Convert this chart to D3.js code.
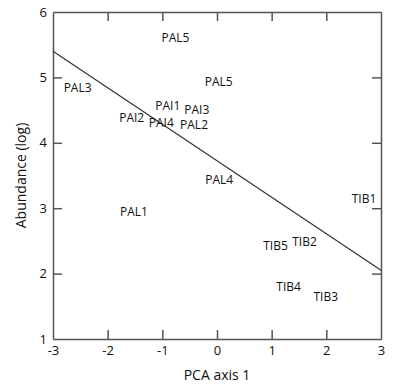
<!DOCTYPE html>
<html lang="en">
<head>
    <meta charset="utf-8">
    <script src='https://d3js.org/d3.v7.min.js'></script>
    <style>
        body { margin: 0; background: #fff; }
        svg text { font-family: "Open Sans", sans-serif; fill: #111; }
        .axis path { stroke: #555; stroke-width: 1.5; }
        .axis line { stroke: #555; stroke-width: 1.5; }
        .axis text { font-size: 13px; }
    </style>
</head>
<body>
    <script>
        // site labels and positions (PCA axis 1, log abundance)
        let labels = ['PAL5', 'PAL3', 'PAI1', 'PAI3', 'PAL5', 'PAI2', 'PAI4', 'PAL2', 'PAL4', 'TIB1', 'PAL1', 'TIB5', 'TIB2', 'TIB4', 'TIB3'];
        let pcaX = [-0.76, -2.55, -0.90, -0.37, 0.03, -1.56, -1.02, -0.42, 0.04, 2.69, -1.52, 1.07, 1.60, 1.31, 1.99];
        let abund = [5.60, 4.84, 4.56, 4.51, 4.94, 4.38, 4.30, 4.28, 3.44, 3.15, 2.94, 2.43, 2.49, 1.80, 1.65];
        // regression line end points
        let lineX = [-3, 3];
        let lineY = [5.40, 2.05];
        let xTicks = [-3, -2, -1, 0, 1, 2, 3];
        let yTicks = [1, 2, 3, 4, 5, 6];

        var width = 394, height = 390;
        var mLeft = 53, mRight = 381, mTop = 12, mBottom = 339;

        var svg = d3.select("body").append("svg")
            .attr("width", width)
            .attr("height", height);

        var x = d3.scaleLinear().domain([-3, 3]).range([mLeft, mRight]);
        var y = d3.scaleLinear().domain([1, 6]).range([mBottom, mTop]);

        // bottom axis, ticks pointing inward
        var gx = svg.append("g").attr("class", "axis")
            .attr("transform", "translate(0," + mBottom + ")")
            .call(d3.axisBottom(x).tickValues(xTicks).tickSizeInner(-9).tickSizeOuter(0).tickPadding(7).tickFormat(d => String(d)));
        gx.selectAll(".tick").filter(d => d == -3 || d == 3).select("line").remove();

        var gy = svg.append("g").attr("class", "axis")
            .attr("transform", "translate(" + mLeft + ",0)")
            .call(d3.axisLeft(y).tickValues(yTicks).tickSizeInner(-9).tickSizeOuter(0).tickPadding(6).tickFormat(d => String(d)));
        gy.selectAll(".tick").filter(d => d == 1 || d == 6).select("line").remove();

        svg.append("g").attr("class", "axis")
            .attr("transform", "translate(0," + mTop + ")")
            .call(d3.axisTop(x).tickValues(xTicks.slice(1, -1)).tickSizeInner(-9).tickSizeOuter(0).tickFormat(""));

        svg.append("g").attr("class", "axis")
            .attr("transform", "translate(" + mRight + ",0)")
            .call(d3.axisRight(y).tickValues(yTicks.slice(1, -1)).tickSizeInner(-9).tickSizeOuter(0).tickFormat(""));

        svg.selectAll(".axis text").attr("fill", "#111");

        // regression line
        svg.append("path")
            .datum(lineX.map((d, i) => [d, lineY[i]]))
            .attr("fill", "none")
            .attr("stroke", "#333")
            .attr("stroke-width", 1.2)
            .attr("d", d3.line().x(d => x(d[0])).y(d => y(d[1])));

        // site labels
        svg.selectAll("text.site")
            .data(labels)
            .enter()
            .append("text")
            .attr("class", "site")
            .attr("x", (d, i) => x(pcaX[i]))
            .attr("y", (d, i) => y(abund[i]))
            .attr("dy", ".35em")
            .attr("text-anchor", "middle")
            .style("font-size", "12px")
            .text(d => d);

        svg.append("text")
            .attr("x", (mLeft + mRight) / 2)
            .attr("y", 380)
            .attr("text-anchor", "middle")
            .style("font-size", "14px")
            .text("PCA axis 1");

        svg.append("text")
            .attr("transform", "translate(26," + (mTop + mBottom) / 2 + ") rotate(-90)")
            .attr("text-anchor", "middle")
            .style("font-size", "14px")
            .text("Abundance (log)");
    </script>
</body>
</html>
